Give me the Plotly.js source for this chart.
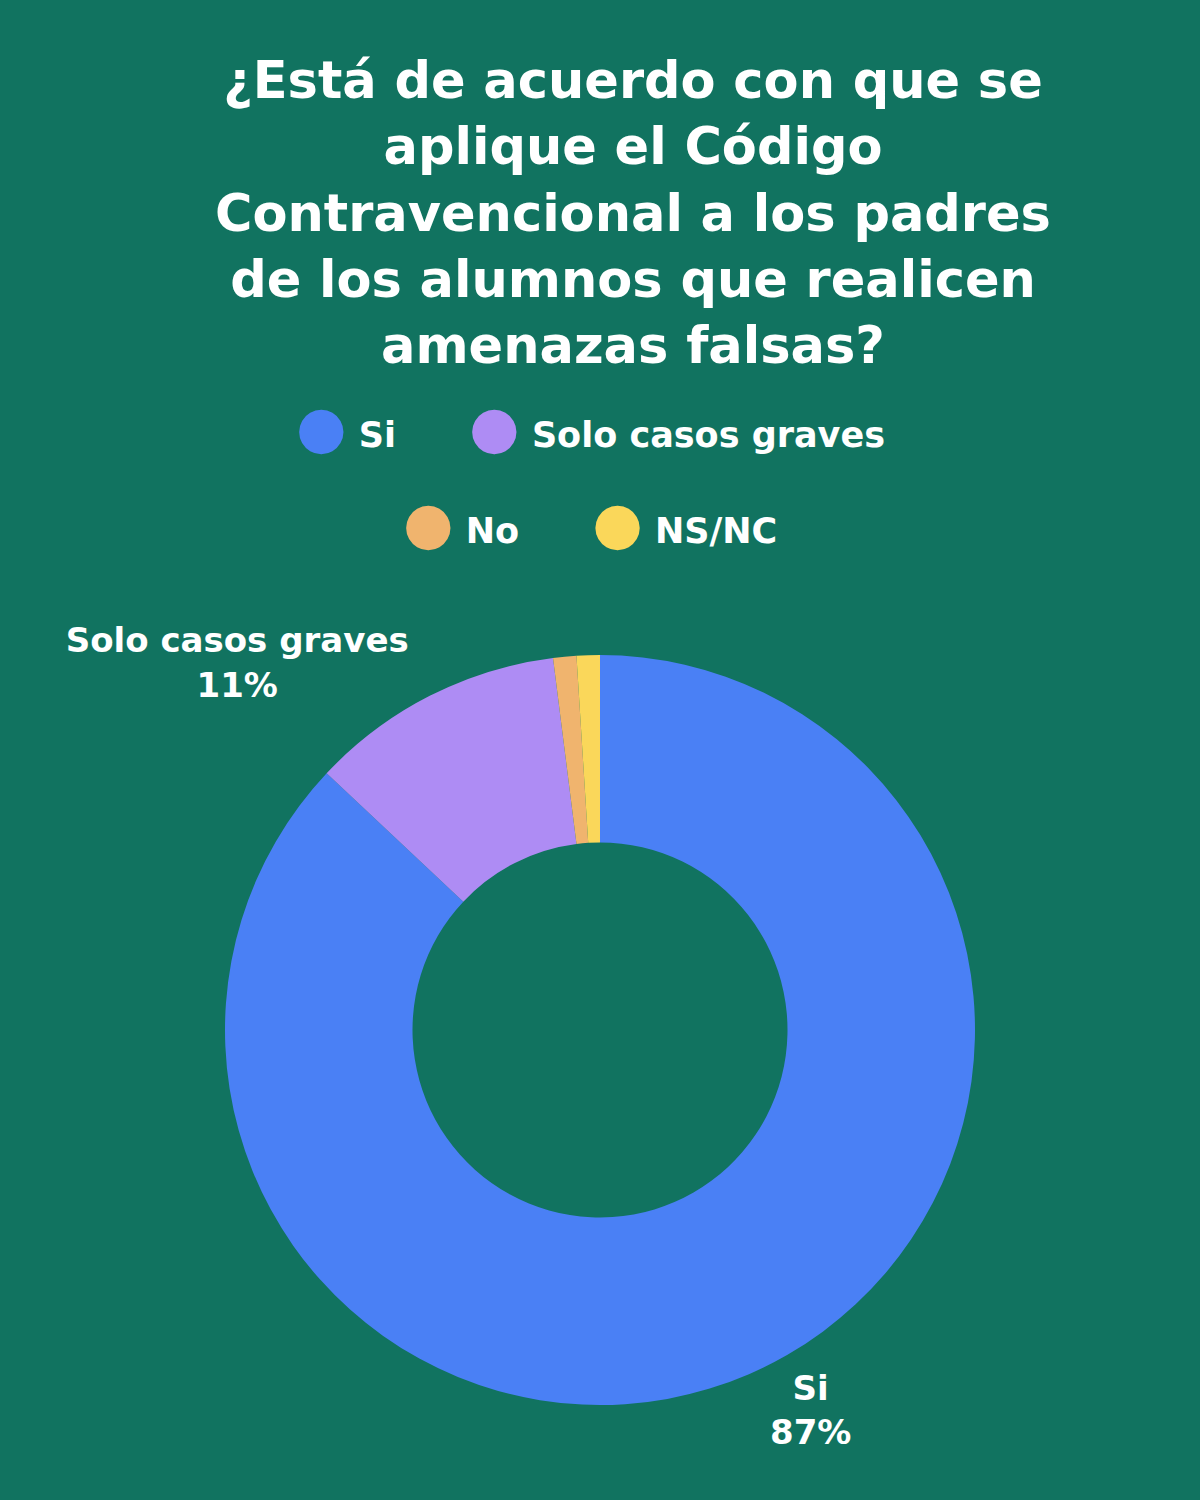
<!DOCTYPE html>
<html>
<head>
<meta charset="utf-8">
<script src="https://cdn.plot.ly/plotly-3.0.1.min.js"></script>
<style>html,body{margin:0;padding:0;background:#117360;}#chart{width:1200px;height:1500px;}</style>
</head>
<body>
<div id="chart"></div>
<script>
const titleText = "¿Está de acuerdo con que se<br>aplique el Código<br>Contravencional a los padres<br>de los alumnos que realicen<br>amenazas falsas?";
const labels = ["Si", "Solo casos graves", "No", "NS/NC"];
const values = [87, 11, 1, 1];
const colors = ["#4a80f5", "#ae8cf4", "#f0b46e", "#fad75a"];
const showLabel = [true, true, false, false];
const legendRows = [[0, 1], [2, 3]];

const FONT = "DejaVu Sans";
const bg = "#117360";

const pie = {
  type: "pie",
  labels: labels,
  values: values,
  sort: false,
  direction: "clockwise",
  rotation: 0,
  hole: 0.5,
  marker: {colors: colors, line: {width: 0}},
  texttemplate: showLabel.map(s => s ? "%{label}<br>%{percent}" : ""),
  textposition: "outside",
  outsidetextfont: {family: FONT, size: 34, color: "#ffffff", weight: 700},
  showlegend: false,
  domain: {x: [0.1875, 0.8125], y: [1 - 1405/1500, 1 - 655/1500]},
  hoverinfo: "label+percent"
};

const gap = "\u00a0".repeat(6);
const legendY = [1 - 427/1500, 1 - 523/1500];
const annotations = legendRows.map((row, r) => ({
  xref: "paper", yref: "paper",
  x: 590/1200, y: legendY[r],
  xanchor: "center", yanchor: "middle",
  showarrow: false,
  text: row.map(i => `<span style="color:${colors[i]};font-size:58px">●</span>\u00a0${labels[i]}`).join(gap),
  font: {family: FONT, size: 35, color: "#ffffff", weight: 700}
}));

const layout = {
  width: 1200, height: 1500,
  paper_bgcolor: bg, plot_bgcolor: bg,
  margin: {l: 0, r: 0, t: 0, b: 0},
  title: {
    text: titleText,
    font: {family: FONT, size: 51, color: "#ffffff", weight: 700},
    x: 633/1200, xanchor: "center",
    xref: "paper",
    y: 1 - 98/1500, yanchor: "top", yref: "container"
  },
  annotations: annotations
};

Plotly.newPlot("chart", [pie], layout, {displayModeBar: false, staticPlot: true});
</script>
</body>
</html>
